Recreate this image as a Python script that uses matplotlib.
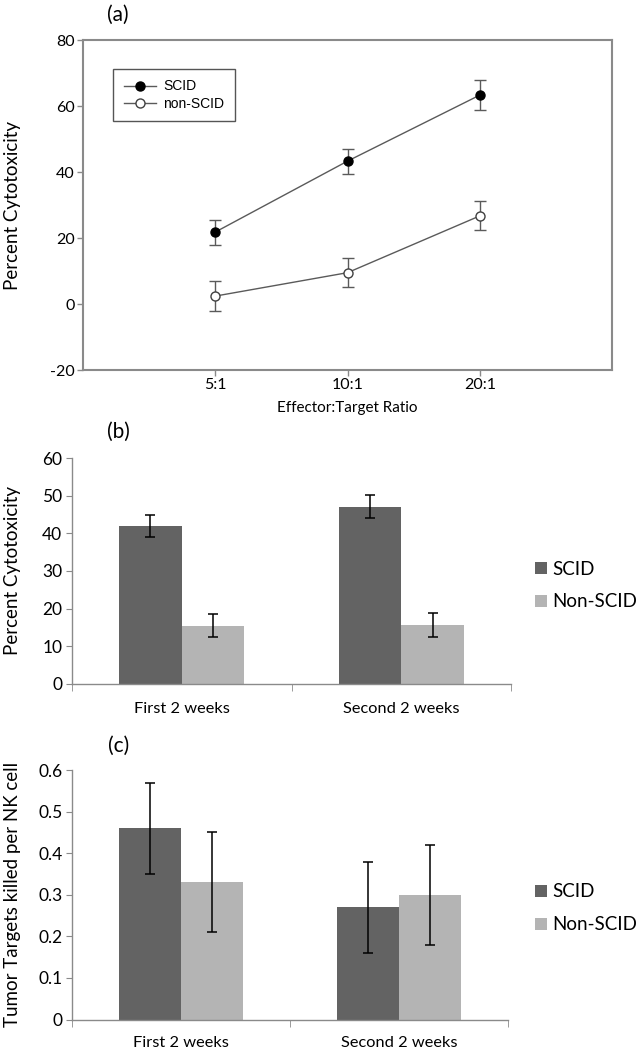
import numpy as np
import matplotlib.pyplot as plt
from matplotlib.lines import Line2D
from matplotlib.ticker import FuncFormatter

plt.rcParams['font.family'] = ['Lato', 'DejaVu Sans']
plt.rcParams['axes.unicode_minus'] = False

# (a) cytotoxicity vs effector:target ratio
ratios = ['5:1', '10:1', '20:1']
scid_a = [21.8, 43.3, 63.3]
scid_a_err = [3.8, 3.8, 4.5]
nonscid_a = [2.4, 9.5, 26.7]
nonscid_a_err = [4.5, 4.4, 4.4]

# (b) percent cytotoxicity by period
periods = ['First 2 weeks', 'Second 2 weeks']
scid_b = [42.0, 47.1]
scid_b_err = [3.0, 3.1]
nonscid_b = [15.5, 15.7]
nonscid_b_err = [3.1, 3.1]

# (c) tumor targets killed per NK cell
scid_c = [0.46, 0.27]
scid_c_err = [0.11, 0.11]
nonscid_c = [0.33, 0.30]
nonscid_c_err = [0.12, 0.12]

dark = '#636363'
light = '#b4b4b4'
axis_gray = '#8a8a8a'

fig = plt.figure(figsize=(6.39, 10.5), dpi=100)

# ---------------- panel (a)
ax = fig.add_axes([0.1299, 0.6476, 0.8279, 0.3143])
x = np.arange(1, len(ratios) + 1)
line_col = '#5a5a5a'
ax.errorbar(x, scid_a, yerr=scid_a_err, color=line_col, lw=1.0, marker='o',
            ms=6.5, mfc='black', mec='black', capsize=4, elinewidth=1.0,
            ecolor=line_col)
ax.errorbar(x, nonscid_a, yerr=nonscid_a_err, color=line_col, lw=1.0, marker='o',
            ms=6.5, mfc='white', mec='#404040', capsize=4, elinewidth=1.0,
            ecolor=line_col)
ax.set_xlim(0, 4)
ax.set_ylim(-20, 80)
ax.set_yticks(np.arange(-20, 81, 20))
ax.set_xticks(x)
ax.set_xticklabels(ratios)
for s in ax.spines.values():
    s.set_color(axis_gray)
    s.set_linewidth(1.5)
ax.tick_params(direction='out', length=4, width=1, color=axis_gray,
               labelsize=11.5, pad=2)
ax.set_xlabel('Effector:Target Ratio', fontsize=11, labelpad=6)
ax.set_ylabel('Percent Cytotoxicity', fontsize=13.5)
ax.yaxis.set_label_coords(-0.117, 0.5)
handles = [Line2D([], [], color=line_col, lw=1.0, marker='o', ms=6.5,
                  mfc='black', mec='black'),
           Line2D([], [], color=line_col, lw=1.0, marker='o', ms=6.5,
                  mfc='white', mec='#404040')]
leg = ax.legend(handles, ['SCID', 'non-SCID'], loc='upper left',
                bbox_to_anchor=(0.057, 0.912), frameon=True,
                fancybox=False, edgecolor='#555555', framealpha=1,
                prop={'family': 'Liberation Sans', 'size': 10},
                handlelength=2.3, handletextpad=0.55, borderpad=0.75,
                labelspacing=0.25, borderaxespad=0)
leg.get_frame().set_linewidth(1.0)
fig.text(0.185, 0.986, '(a)', fontsize=15, ha='center', va='center')


def bar_panel(ax, scid, scid_err, nonscid, nonscid_err, ylim, step, xpad):
    pos = np.arange(len(periods))
    w = 0.285
    ax.bar(pos - w / 2, scid, w, color=dark, label='SCID')
    ax.bar(pos + w / 2, nonscid, w, color=light, label='Non-SCID')
    ax.errorbar(pos - w / 2, scid, yerr=scid_err, fmt='none', ecolor='black',
                elinewidth=1.1, capsize=3.5, capthick=1.1)
    ax.errorbar(pos + w / 2, nonscid, yerr=nonscid_err, fmt='none', ecolor='black',
                elinewidth=1.1, capsize=3.5, capthick=1.1)
    ax.set_xlim(-0.5, len(periods) - 0.5)
    ax.set_ylim(*ylim)
    ax.set_yticks(np.arange(ylim[0], ylim[1] + step / 2, step))
    ax.set_xticks(pos)
    ax.set_xticklabels(periods)
    ax.set_xticks(np.arange(-0.5, len(periods), 1), minor=True)
    ax.tick_params(axis='x', which='major', length=0, labelsize=11.8, pad=xpad)
    ax.tick_params(axis='x', which='minor', length=5, color=axis_gray, direction='out')
    ax.tick_params(axis='y', length=4, color=axis_gray, direction='out',
                   labelsize=12.5, pad=3)
    for side in ('top', 'right'):
        ax.spines[side].set_visible(False)
    for side in ('left', 'bottom'):
        ax.spines[side].set_color(axis_gray)
        ax.spines[side].set_linewidth(1.0)
    return ax


# ---------------- panel (b)
axb = fig.add_axes([0.1127, 0.3486, 0.687, 0.2152])
bar_panel(axb, scid_b, scid_b_err, nonscid_b, nonscid_b_err, (0, 60), 10, 13)
axb.set_ylabel('Percent Cytotoxicity', fontsize=13.5)
axb.yaxis.set_label_coords(-0.116, 0.5)
fig.text(0.185, 0.589, '(b)', fontsize=15, ha='center', va='center')
h, l = axb.get_legend_handles_labels()
fig.legend(h, l, loc='center left', bbox_to_anchor=(0.838, 0.4424), frameon=False,
           fontsize=13.5, handlelength=0.6, handleheight=0.6, handletextpad=0.3,
           labelspacing=0.85, borderpad=0, borderaxespad=0)

# ---------------- panel (c)
axc = fig.add_axes([0.1127, 0.029, 0.6823, 0.2376])
bar_panel(axc, scid_c, scid_c_err, nonscid_c, nonscid_c_err, (0, 0.6), 0.1, 12)
axc.yaxis.set_major_formatter(FuncFormatter(lambda v, p: '{:g}'.format(round(v, 1))))
axc.set_ylabel('Tumor Targets killed per NK cell', fontsize=13.5)
axc.yaxis.set_label_coords(-0.117, 0.5)
fig.text(0.185, 0.290, '(c)', fontsize=15, ha='center', va='center')
h, l = axc.get_legend_handles_labels()
fig.legend(h, l, loc='center left', bbox_to_anchor=(0.838, 0.1348), frameon=False,
           fontsize=13.5, handlelength=0.6, handleheight=0.6, handletextpad=0.3,
           labelspacing=0.85, borderpad=0, borderaxespad=0)

fig.savefig('out.png', dpi=100)
